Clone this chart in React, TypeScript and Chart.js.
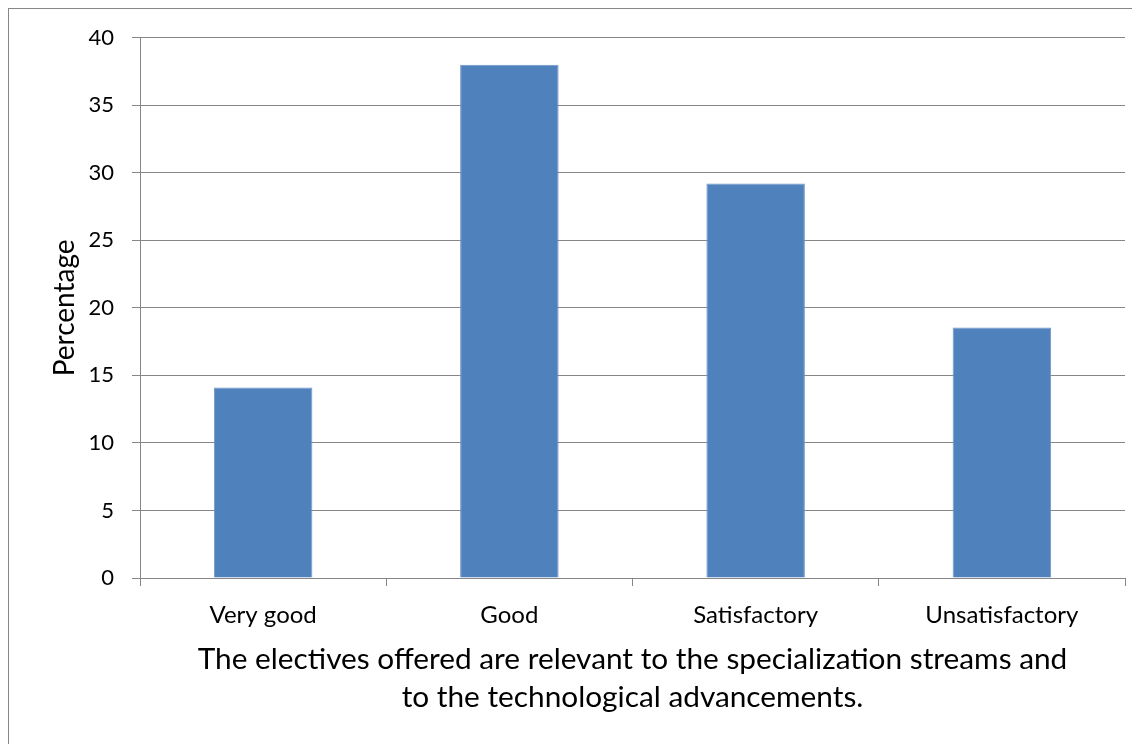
import React, { useEffect, useRef } from "react";
import { Chart, registerables } from "chart.js";

Chart.register(...registerables);

const categories = ["Very good", "Good", "Satisfactory", "Unsatisfactory"];
const percentages = [14.1, 38.0, 29.2, 18.55];
const yTicks = [0, 5, 10, 15, 20, 25, 30, 35, 40];
const xTitle = [
  "The electives offered are relevant to the specialization streams and",
  "to the technological advancements.",
];
const yTitle = "Percentage";

const FONT = "Lato, 'Open Sans', sans-serif";
const GRID = "#868686";

export default function App() {
  const ref = useRef<HTMLCanvasElement | null>(null);

  useEffect(() => {
    document.documentElement.style.overflow = "hidden";
    document.body.style.overflow = "hidden";
    const canvas = ref.current;
    if (!canvas) return;
    const chart = new Chart(canvas, {
      type: "bar",
      data: {
        labels: categories,
        datasets: [
          {
            data: percentages,
            backgroundColor: "#4F81BD",
            borderColor: "#7096c8",
            borderWidth: 1,
            categoryPercentage: 1,
            barPercentage: 0.4,
          },
        ],
      },
      options: {
        animation: false,
        responsive: false,
        maintainAspectRatio: false,
        layout: { padding: { top: 20, right: 15, left: 0, bottom: 0 } },
        plugins: {
          legend: { display: false },
          tooltip: { enabled: false },
        },
        scales: {
          x: {
            grid: {
              display: true,
              drawOnChartArea: false,
              drawTicks: true,
              tickLength: 8,
              color: GRID,
              offset: true,
            },
            border: { display: true, color: GRID },
            ticks: {
              color: "#000",
              padding: 15,
              font: { family: FONT, size: 24 },
              maxRotation: 0,
            },
            title: {
              display: true,
              text: xTitle,
              color: "#000",
              font: { family: FONT, size: 29.8, lineHeight: 38 / 29.8 },
              padding: { top: 0, bottom: 28 },
            },
            afterFit: (s: any) => {
              s.height = 166;
            },
          },
          y: {
            min: 0,
            max: 40,
            afterBuildTicks: (s: any) => {
              s.ticks = yTicks.map((v) => ({ value: v }));
            },
            grid: {
              color: GRID,
              tickLength: 8,
              drawTicks: true,
            },
            border: { display: true, color: GRID },
            ticks: {
              color: "#000",
              padding: 18,
              font: { family: FONT, size: 22, lineHeight: 21.3 / 22 },
            },
            title: {
              display: true,
              text: yTitle,
              color: "#000",
              font: { family: FONT, size: 28, lineHeight: 1.2 },
              padding: { top: 39, bottom: 0 },
            },
            afterFit: (s: any) => {
              s.width = 131;
            },
          },
        },
      },
    });
    return () => chart.destroy();
  }, []);

  return (
    <div
      style={{
        borderLeft: "1px solid #878787",
        borderTop: "1px solid #878787",
        width: 1131,
        height: 735,
        background: "#fff",
      }}
    >
      <canvas
        ref={ref}
        width={1131}
        height={735}
        style={{ display: "block", width: 1131, height: 735 }}
      />
    </div>
  );
}
